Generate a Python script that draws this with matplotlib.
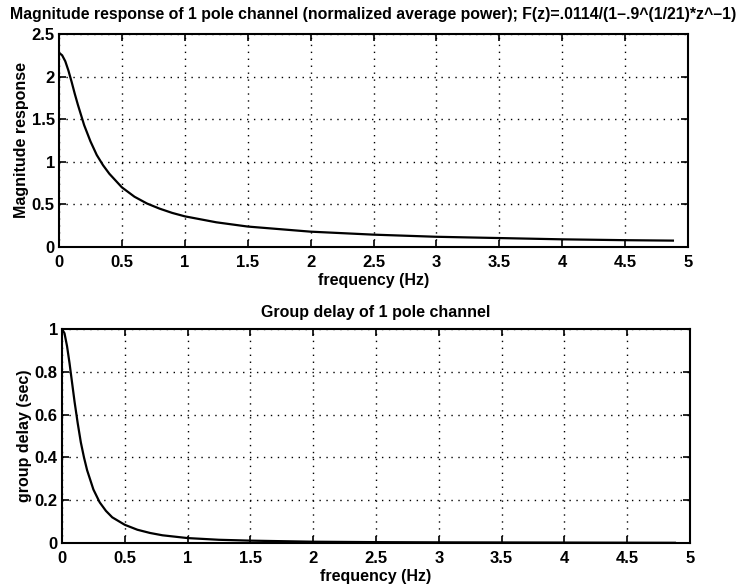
import matplotlib
matplotlib.use("Agg")
import matplotlib.pyplot as plt
import numpy as np

plt.rcParams['font.family'] = ['Liberation Sans', 'DejaVu Sans']
plt.rcParams['font.weight'] = 'bold'
plt.rcParams['axes.titleweight'] = 'bold'
plt.rcParams['axes.labelweight'] = 'bold'

# magnitude response
freq_mag = [0, 0.025, 0.05, 0.075, 0.1, 0.125, 0.15, 0.2, 0.25, 0.3, 0.35, 0.4, 0.5, 0.6,
            0.7, 0.8, 0.9, 1.0, 1.25, 1.5, 1.75, 2.0, 2.5, 3.0, 3.5, 4.0, 4.5, 4.88]
mag = [2.28, 2.25, 2.18, 2.07, 1.94, 1.80, 1.67, 1.43, 1.24, 1.08, 0.96, 0.86, 0.70, 0.59,
       0.51, 0.45, 0.40, 0.36, 0.29, 0.24, 0.21, 0.18, 0.145, 0.12, 0.105, 0.09, 0.08, 0.075]

# group delay
freq_gd = [0, 0.02, 0.04, 0.06, 0.08, 0.1, 0.125, 0.15, 0.175, 0.2, 0.25, 0.3, 0.35, 0.4,
           0.5, 0.6, 0.7, 0.8, 1.0, 1.25, 1.5, 2.0, 2.5, 3.0, 4.0, 4.88]
gd = [1.0, 0.98, 0.92, 0.84, 0.75, 0.66, 0.56, 0.47, 0.40, 0.34, 0.25, 0.19, 0.15, 0.12,
      0.085, 0.062, 0.047, 0.036, 0.023, 0.015, 0.011, 0.006, 0.004, 0.003, 0.002, 0.001]

x_ticks = [0, 0.5, 1, 1.5, 2, 2.5, 3, 3.5, 4, 4.5, 5]
x_labels = ['0', '0.5', '1', '1.5', '2', '2.5', '3', '3.5', '4', '4.5', '5']

fig = plt.figure(figsize=(7.43, 5.88), dpi=100)
W, H = 743, 588
ax1 = fig.add_axes([59 / W, 1 - 247 / H, 629 / W, 213 / H])
ax2 = fig.add_axes([62 / W, 1 - 543 / H, 628 / W, 214 / H])

def style(ax):
    ax.set_xlim(0, 5)
    ax.set_xticks(x_ticks)
    ax.set_xticklabels(x_labels)
    ax.tick_params(direction='in', top=True, right=True, length=5, width=1.2,
                   labelsize=12)
    ax.tick_params(axis='x', pad=6)
    ax.tick_params(axis='y', pad=3)
    ax.grid(True, color='black', linestyle=(0, (1, 4)), linewidth=1.0)
    for s in ax.spines.values():
        s.set_linewidth(1.5)

ax1.plot(freq_mag, mag, color='black', linewidth=1.6)
style(ax1)
ax1.set_ylim(0, 2.5)
ax1.set_yticks([0, 0.5, 1, 1.5, 2, 2.5])
ax1.set_yticklabels(['0', '0.5', '1', '1.5', '2', '2.5'])
ax1.set_xlabel('frequency (Hz)', fontsize=11.5, labelpad=2)
ax1.set_ylabel('Magnitude response', fontsize=11.5, labelpad=2)
ax1.set_title('Magnitude response of 1 pole channel (normalized average power); '
              'F(z)=.0114/(1\u2013.9^(1/21)*z^\u20131)', fontsize=11.4, pad=11)

ax2.plot(freq_gd, gd, color='black', linewidth=1.6)
style(ax2)
ax2.set_ylim(0, 1)
ax2.set_yticks([0, 0.2, 0.4, 0.6, 0.8, 1])
ax2.set_yticklabels(['0', '0.2', '0.4', '0.6', '0.8', '1'])
ax2.set_xlabel('frequency (Hz)', fontsize=11.5, labelpad=2)
ax2.set_ylabel('group delay (sec)', fontsize=11.5, labelpad=2)
ax2.set_title('Group delay of 1 pole channel', fontsize=11.5, pad=9)

fig.savefig('out.png', dpi=100)
